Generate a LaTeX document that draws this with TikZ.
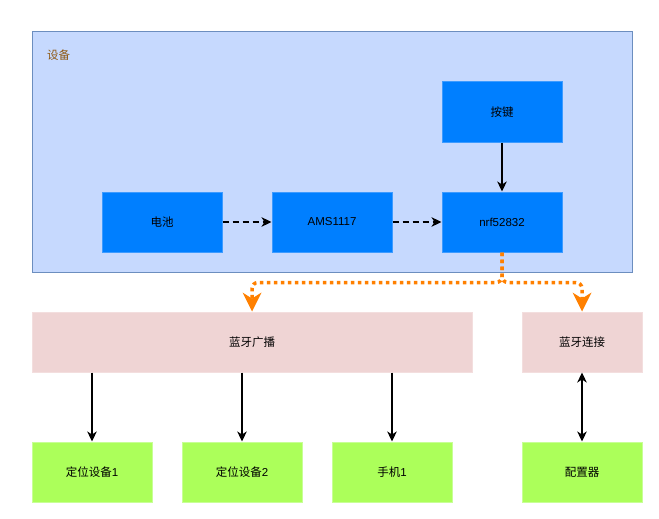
\documentclass[tikz,border=0pt]{standalone}
\usepackage{fontspec}
\setmainfont{Liberation Sans}
\newfontfamily\cjk{Noto Sans CJK SC}
\usetikzlibrary{arrows.meta}
\definecolor{outerfill}{HTML}{C6D9FE}
\definecolor{outerline}{HTML}{6C8EBF}
\definecolor{labelbrown}{HTML}{8F5A14}
\definecolor{bluefill}{HTML}{007FFF}
\definecolor{blueline}{HTML}{3D9BFF}
\definecolor{pinkfill}{HTML}{EFD4D4}
\definecolor{pinkline}{HTML}{F3DEDE}
\definecolor{greenfill}{HTML}{ACFF5A}
\definecolor{greenline}{HTML}{C8FF96}
\definecolor{dotorange}{HTML}{FF8000}
\begin{document}
\begin{tikzpicture}[x=1pt,y=-1pt,
  font=\fontsize{11.5}{13}\selectfont,
  outerbox/.style={draw=outerline, fill=outerfill, line width=1pt, minimum width=600pt, minimum height=240pt, inner sep=0pt},
  bluebox/.style={draw=blueline, fill=bluefill, line width=1pt, minimum width=120pt, minimum height=60pt, inner sep=0pt},
  pinkbox/.style={draw=pinkline, fill=pinkfill, line width=1pt, minimum height=60pt, inner sep=0pt},
  greenbox/.style={draw=greenline, fill=greenfill, line width=1pt, minimum width=120pt, minimum height=60pt, inner sep=0pt},
  tip/.style={Stealth[length=10pt,width=9.5pt,inset=3pt]},
  blackarrow/.style={draw=black, line width=1.6pt, -{Stealth[length=10pt,width=9.5pt,inset=3pt]}},
  blackdash/.style={blackarrow, dash pattern=on 6pt off 4pt},
  orangedot/.style={draw=dotorange, line width=3.5pt, dash pattern=on 3.5pt off 3.5pt, rounded corners=6pt,
    -{Stealth[length=19pt,width=19pt,inset=6pt,line width=0pt,fill=dotorange]}}
]
\useasboundingbox (0,0) rectangle (659,519);

\node[outerbox] (dev) at (332,152) {};
\node[anchor=west, text=labelbrown, inner sep=0pt] (devlabel) at (47,55) {\cjk 设备};

\node[bluebox] (key) at (502,112) {\cjk 按键};
\node[bluebox] (bat) at (162,222) {\cjk 电池};
\node[bluebox] (ams) at (332,222) {AMS1117};
\node[bluebox] (nrf) at (502,222) {nrf52832};

\node[pinkbox, minimum width=440pt] (bcast) at (252,342) {\cjk 蓝牙广播};
\node[pinkbox, minimum width=120pt] (conn) at (582,342) {\cjk 蓝牙连接};

\node[greenbox] (loc1) at (92,472) {{\cjk 定位设备}1};
\node[greenbox] (loc2) at (242,472) {{\cjk 定位设备}2};
\node[greenbox] (phone) at (392,472) {{\cjk 手机}1};
\node[greenbox] (cfg) at (582,472) {\cjk 配置器};

\draw[blackdash] (bat.east) -- (ams.west);
\draw[blackdash] (ams.east) -- (nrf.west);
\draw[blackarrow] (key.south) -- (nrf.north);

\draw[orangedot] (nrf.south) -- ++(0,30) -| (bcast.north);
\draw[orangedot] (nrf.south) -- ++(0,30) -| (conn.north);

\draw[blackarrow] (bcast.south -| loc1.north) -- (loc1.north);
\draw[blackarrow] (bcast.south -| loc2.north) -- (loc2.north);
\draw[blackarrow] (bcast.south -| phone.north) -- (phone.north);
\draw[blackarrow, {Stealth[length=10pt,width=9.5pt,inset=3pt]}-{Stealth[length=10pt,width=9.5pt,inset=3pt]}] (conn.south) -- (cfg.north);
\end{tikzpicture}
\end{document}
